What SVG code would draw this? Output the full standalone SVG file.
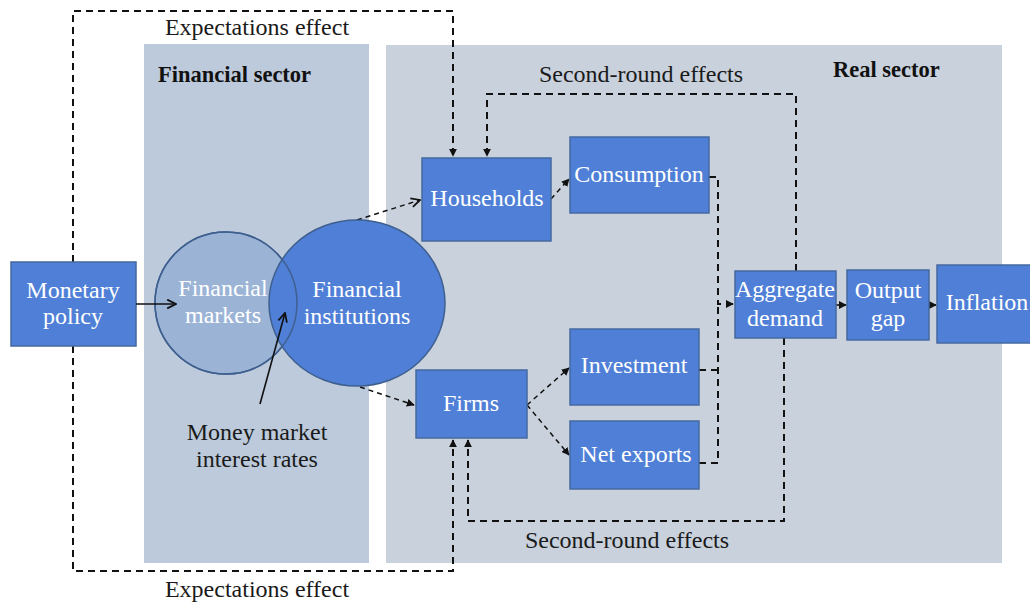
<svg xmlns="http://www.w3.org/2000/svg" width="1030" height="602" viewBox="0 0 1030 602">
<defs>
<style>
.node{fill:#4f7fd6;stroke:#44699f;stroke-width:1.5}
.t{font-family:"Liberation Serif",serif;font-size:24px;fill:#ffffff;text-anchor:middle}
.lbl{font-family:"Liberation Serif",serif;font-size:24px;fill:#1a1a1a;text-anchor:middle}
.hd{font-family:"Liberation Serif",serif;font-size:22.5px;font-weight:bold;fill:#111}
.dash{fill:none;stroke:#111;stroke-width:2;stroke-dasharray:7,5}
.sd{fill:none;stroke:#111;stroke-width:1.5;stroke-dasharray:5,4}
.solid{fill:none;stroke:#111;stroke-width:1.6}
</style>
<marker id="fa" viewBox="0 0 10 10" refX="9" refY="5" markerWidth="8" markerHeight="8" markerUnits="userSpaceOnUse" orient="auto"><path d="M0,0 L10,5 L0,10 z" fill="#111"/></marker>
<marker id="oa" viewBox="0 0 10 10" refX="9" refY="5" markerWidth="11" markerHeight="11" markerUnits="userSpaceOnUse" orient="auto"><path d="M1,1 L9,5 L1,9" fill="none" stroke="#111" stroke-width="1.6"/></marker>
</defs>
<rect width="1030" height="602" fill="#ffffff"/>
<g id="panels">
<rect x="144" y="44" width="225" height="519" fill="#bccadb"/>
<rect x="386" y="45" width="616" height="518" fill="#c8d1dc"/>
<text class="hd" x="158" y="82">Financial sector</text>
<text class="hd" x="833" y="77">Real sector</text>
</g>
<g id="labels">
<text class="lbl" x="257" y="35">Expectations effect</text>
<text class="lbl" x="257" y="597">Expectations effect</text>
<text class="lbl" x="641" y="82">Second-round effects</text>
<text class="lbl" x="627" y="548">Second-round effects</text>
<text class="lbl" x="257" y="440">Money market</text>
<text class="lbl" x="257" y="467">interest rates</text>
</g>
<g id="connectors">
<path class="dash" d="M73,262 V11 H453 V156" marker-end="url(#fa)"/>
<path class="dash" d="M73,346 V571 H453 V440" marker-end="url(#fa)"/>
<path class="dash" d="M796,271 V94 H487 V156" marker-end="url(#fa)"/>
<path class="dash" d="M784,338 V521 H468 V440" marker-end="url(#fa)"/>
<path class="dash" d="M709,177 H718 V304 H733" marker-end="url(#fa)"/>
<path class="dash" d="M699,370 H718"/>
<path class="dash" d="M699,463 H718 V304"/>
<path class="sd" d="M551,199 L569,179" marker-end="url(#fa)"/>
<path class="sd" d="M527,405 L569,368" marker-end="url(#fa)"/>
<path class="sd" d="M527,405 L569,455" marker-end="url(#fa)"/>
<path class="sd" d="M357,220 L420,200" marker-end="url(#oa)"/>
<path class="sd" d="M360,387 L414,405" marker-end="url(#fa)"/>
<path class="solid" d="M836,305 L846,305" marker-end="url(#fa)"/>
<path class="solid" d="M929,305 L936,305" marker-end="url(#fa)"/>
</g>
<g id="monetary-policy">
<rect class="node" x="11" y="262" width="125" height="84"/>
<text class="t" x="73" y="298">Monetary</text>
<text class="t" x="73" y="324">policy</text>
</g>
<g id="financial-markets">
<circle cx="226" cy="303" r="71" fill="#9bb4d6" stroke="#3f5f8f" stroke-width="1.5"/>
</g>
<g id="financial-institutions">
<ellipse cx="357" cy="303" rx="88" ry="83" fill="#4f7fd6" stroke="#3f5f8f" stroke-width="1.5"/>
<text class="t" x="357" y="297">Financial</text>
<text class="t" x="357" y="324">institutions</text>
</g>
<g id="financial-markets-label">
<circle cx="226" cy="303" r="71" fill="none" stroke="#3f5f8f" stroke-width="1.5"/>
<text class="t" x="223" y="296">Financial</text>
<text class="t" x="223" y="323">markets</text>
</g>
<g id="solid-arrows">
<path class="solid" d="M136,304 L176,304" marker-end="url(#oa)"/>
<path class="solid" d="M260,404 L285,313" marker-end="url(#oa)"/>
</g>
<g id="households">
<rect class="node" x="422" y="158" width="129" height="83"/>
<text class="t" x="487" y="206">Households</text>
</g>
<g id="consumption">
<rect class="node" x="570" y="137" width="139" height="76"/>
<text class="t" x="639" y="182">Consumption</text>
</g>
<g id="firms">
<rect class="node" x="416" y="370" width="111" height="68"/>
<text class="t" x="471" y="411">Firms</text>
</g>
<g id="investment">
<rect class="node" x="570" y="329" width="129" height="76"/>
<text class="t" x="634" y="373">Investment</text>
</g>
<g id="net-exports">
<rect class="node" x="570" y="421" width="129" height="68"/>
<text class="t" x="636" y="462">Net exports</text>
</g>
<g id="aggregate-demand">
<rect class="node" x="735" y="271" width="101" height="67"/>
<text class="t" x="785" y="297">Aggregate</text>
<text class="t" x="785" y="326">demand</text>
</g>
<g id="output-gap">
<rect class="node" x="847" y="270" width="82" height="70"/>
<text class="t" x="888" y="298">Output</text>
<text class="t" x="888" y="326">gap</text>
</g>
<g id="inflation">
<rect class="node" x="937" y="265" width="100" height="78"/>
<text class="t" x="987" y="310">Inflation</text>
</g>
</svg>
